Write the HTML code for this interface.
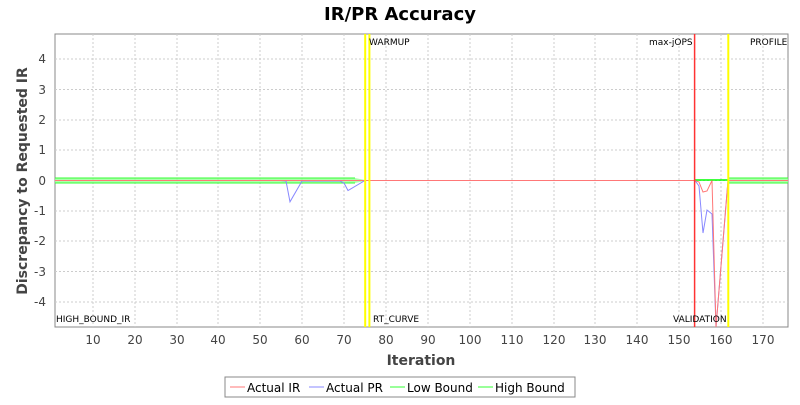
<!DOCTYPE html>
<html><head><style>
body{margin:0;background:#fff;font-family:"Liberation Sans","DejaVu Sans",sans-serif;}
</style></head><body>
<svg width="800" height="400" xmlns="http://www.w3.org/2000/svg" font-family="DejaVu Sans, Liberation Sans, sans-serif">
<rect width="800" height="400" fill="#fff"/>
<text x="400" y="20" text-anchor="middle" font-size="18" font-weight="bold" fill="#000">IR/PR Accuracy</text>
<rect x="55" y="34" width="733" height="293" fill="#fff" stroke="#888"/>
<g stroke="#ccc" stroke-dasharray="2,2" stroke-width="1">
<line x1="93" y1="34" x2="93" y2="327"/><line x1="135" y1="34" x2="135" y2="327"/><line x1="177" y1="34" x2="177" y2="327"/><line x1="218" y1="34" x2="218" y2="327"/><line x1="260" y1="34" x2="260" y2="327"/><line x1="302" y1="34" x2="302" y2="327"/><line x1="344" y1="34" x2="344" y2="327"/><line x1="386" y1="34" x2="386" y2="327"/><line x1="428" y1="34" x2="428" y2="327"/><line x1="470" y1="34" x2="470" y2="327"/><line x1="512" y1="34" x2="512" y2="327"/><line x1="554" y1="34" x2="554" y2="327"/><line x1="595" y1="34" x2="595" y2="327"/><line x1="637" y1="34" x2="637" y2="327"/><line x1="679" y1="34" x2="679" y2="327"/><line x1="721" y1="34" x2="721" y2="327"/><line x1="763" y1="34" x2="763" y2="327"/>
<line x1="55" y1="59" x2="788" y2="59"/><line x1="55" y1="89.5" x2="788" y2="89.5"/><line x1="55" y1="120" x2="788" y2="120"/><line x1="55" y1="150" x2="788" y2="150"/><line x1="55" y1="180.5" x2="788" y2="180.5"/><line x1="55" y1="211" x2="788" y2="211"/><line x1="55" y1="241" x2="788" y2="241"/><line x1="55" y1="271.5" x2="788" y2="271.5"/><line x1="55" y1="302" x2="788" y2="302"/>
</g>
<rect x="55" y="178" width="300" height="5" fill="#9f9" opacity="0.8"/>
<polygon points="355,178 365,180 365,181 355,183" fill="#9f9" opacity="0.8"/>
<rect x="728" y="178" width="60" height="5" fill="#9f9" opacity="0.8"/>
<line x1="55" y1="178" x2="355" y2="178" stroke="#3f3" stroke-width="1"/>
<line x1="55" y1="183" x2="355" y2="183" stroke="#3f3" stroke-width="1"/>
<line x1="695" y1="180" x2="728" y2="180" stroke="#0f0" stroke-width="1.5"/>
<line x1="728" y1="178" x2="788" y2="178" stroke="#3f3"/><line x1="728" y1="183" x2="788" y2="183" stroke="#3f3"/>
<polyline fill="none" stroke="#88f" stroke-width="1" points="55,180.5 280,180.5 286,181 290,201.8 302,181 340,181 344,183 348,190.5 365,180.5 695,180.5 699,186 703,233 707,210 712,214 716,327 728,180.5 788,180.5"/>
<polyline fill="none" stroke="#f77" stroke-width="1" points="55,180.5 365,180.5 695,180.5 699,182 703,192 707,191 712,180.5 716,327 728,180.5 788,180.5"/>
<line x1="369.4" y1="34" x2="369.4" y2="327" stroke="#ff0" stroke-width="2"/>
<line x1="365.2" y1="34" x2="365.2" y2="327" stroke="#ff0" stroke-width="2"/>
<line x1="694.6" y1="34" x2="694.6" y2="327" stroke="#f33" stroke-width="1.5"/>
<line x1="728.3" y1="34" x2="728.3" y2="327" stroke="#ff0" stroke-width="2"/>
<g font-size="9" fill="#000">
<text x="369" y="45">WARMUP</text><text x="649" y="45">max-jOPS</text><text x="750" y="45">PROFILE</text>
<text x="56" y="322">HIGH_BOUND_IR</text><text x="373" y="322">RT_CURVE</text><text x="673" y="322">VALIDATION</text>
</g>
<g font-size="12" fill="#444" text-anchor="end">
<text x="46" y="63">4</text><text x="46" y="94">3</text><text x="46" y="124">2</text><text x="46" y="154">1</text><text x="46" y="185">0</text><text x="46" y="215">-1</text><text x="46" y="245">-2</text><text x="46" y="276">-3</text><text x="46" y="306">-4</text>
</g>
<g font-size="12" fill="#444" text-anchor="middle">
<text x="93" y="344">10</text><text x="135" y="344">20</text><text x="177" y="344">30</text><text x="218" y="344">40</text><text x="260" y="344">50</text><text x="302" y="344">60</text><text x="344" y="344">70</text><text x="386" y="344">80</text><text x="428" y="344">90</text><text x="470" y="344">100</text><text x="512" y="344">110</text><text x="554" y="344">120</text><text x="595" y="344">130</text><text x="637" y="344">140</text><text x="679" y="344">150</text><text x="721" y="344">160</text><text x="763" y="344">170</text>
</g>
<text x="421" y="365" text-anchor="middle" font-size="14" font-weight="bold" fill="#444">Iteration</text>
<text transform="translate(27,181) rotate(-90)" text-anchor="middle" font-size="14" font-weight="bold" fill="#444">Discrepancy to Requested IR</text>
<rect x="225" y="377" width="350" height="20" fill="#fff" stroke="#888"/>
<g font-size="12" fill="#000">
<line x1="230" y1="387" x2="245" y2="387" stroke="#f77"/><text x="247" y="392">Actual IR</text>
<line x1="309" y1="387" x2="324" y2="387" stroke="#88f"/><text x="326" y="392">Actual PR</text>
<line x1="390" y1="387" x2="405" y2="387" stroke="#3f3"/><text x="407" y="392">Low Bound</text>
<line x1="478" y1="387" x2="493" y2="387" stroke="#3f3"/><text x="495" y="392">High Bound</text>
</g>
</svg>
</body></html>
